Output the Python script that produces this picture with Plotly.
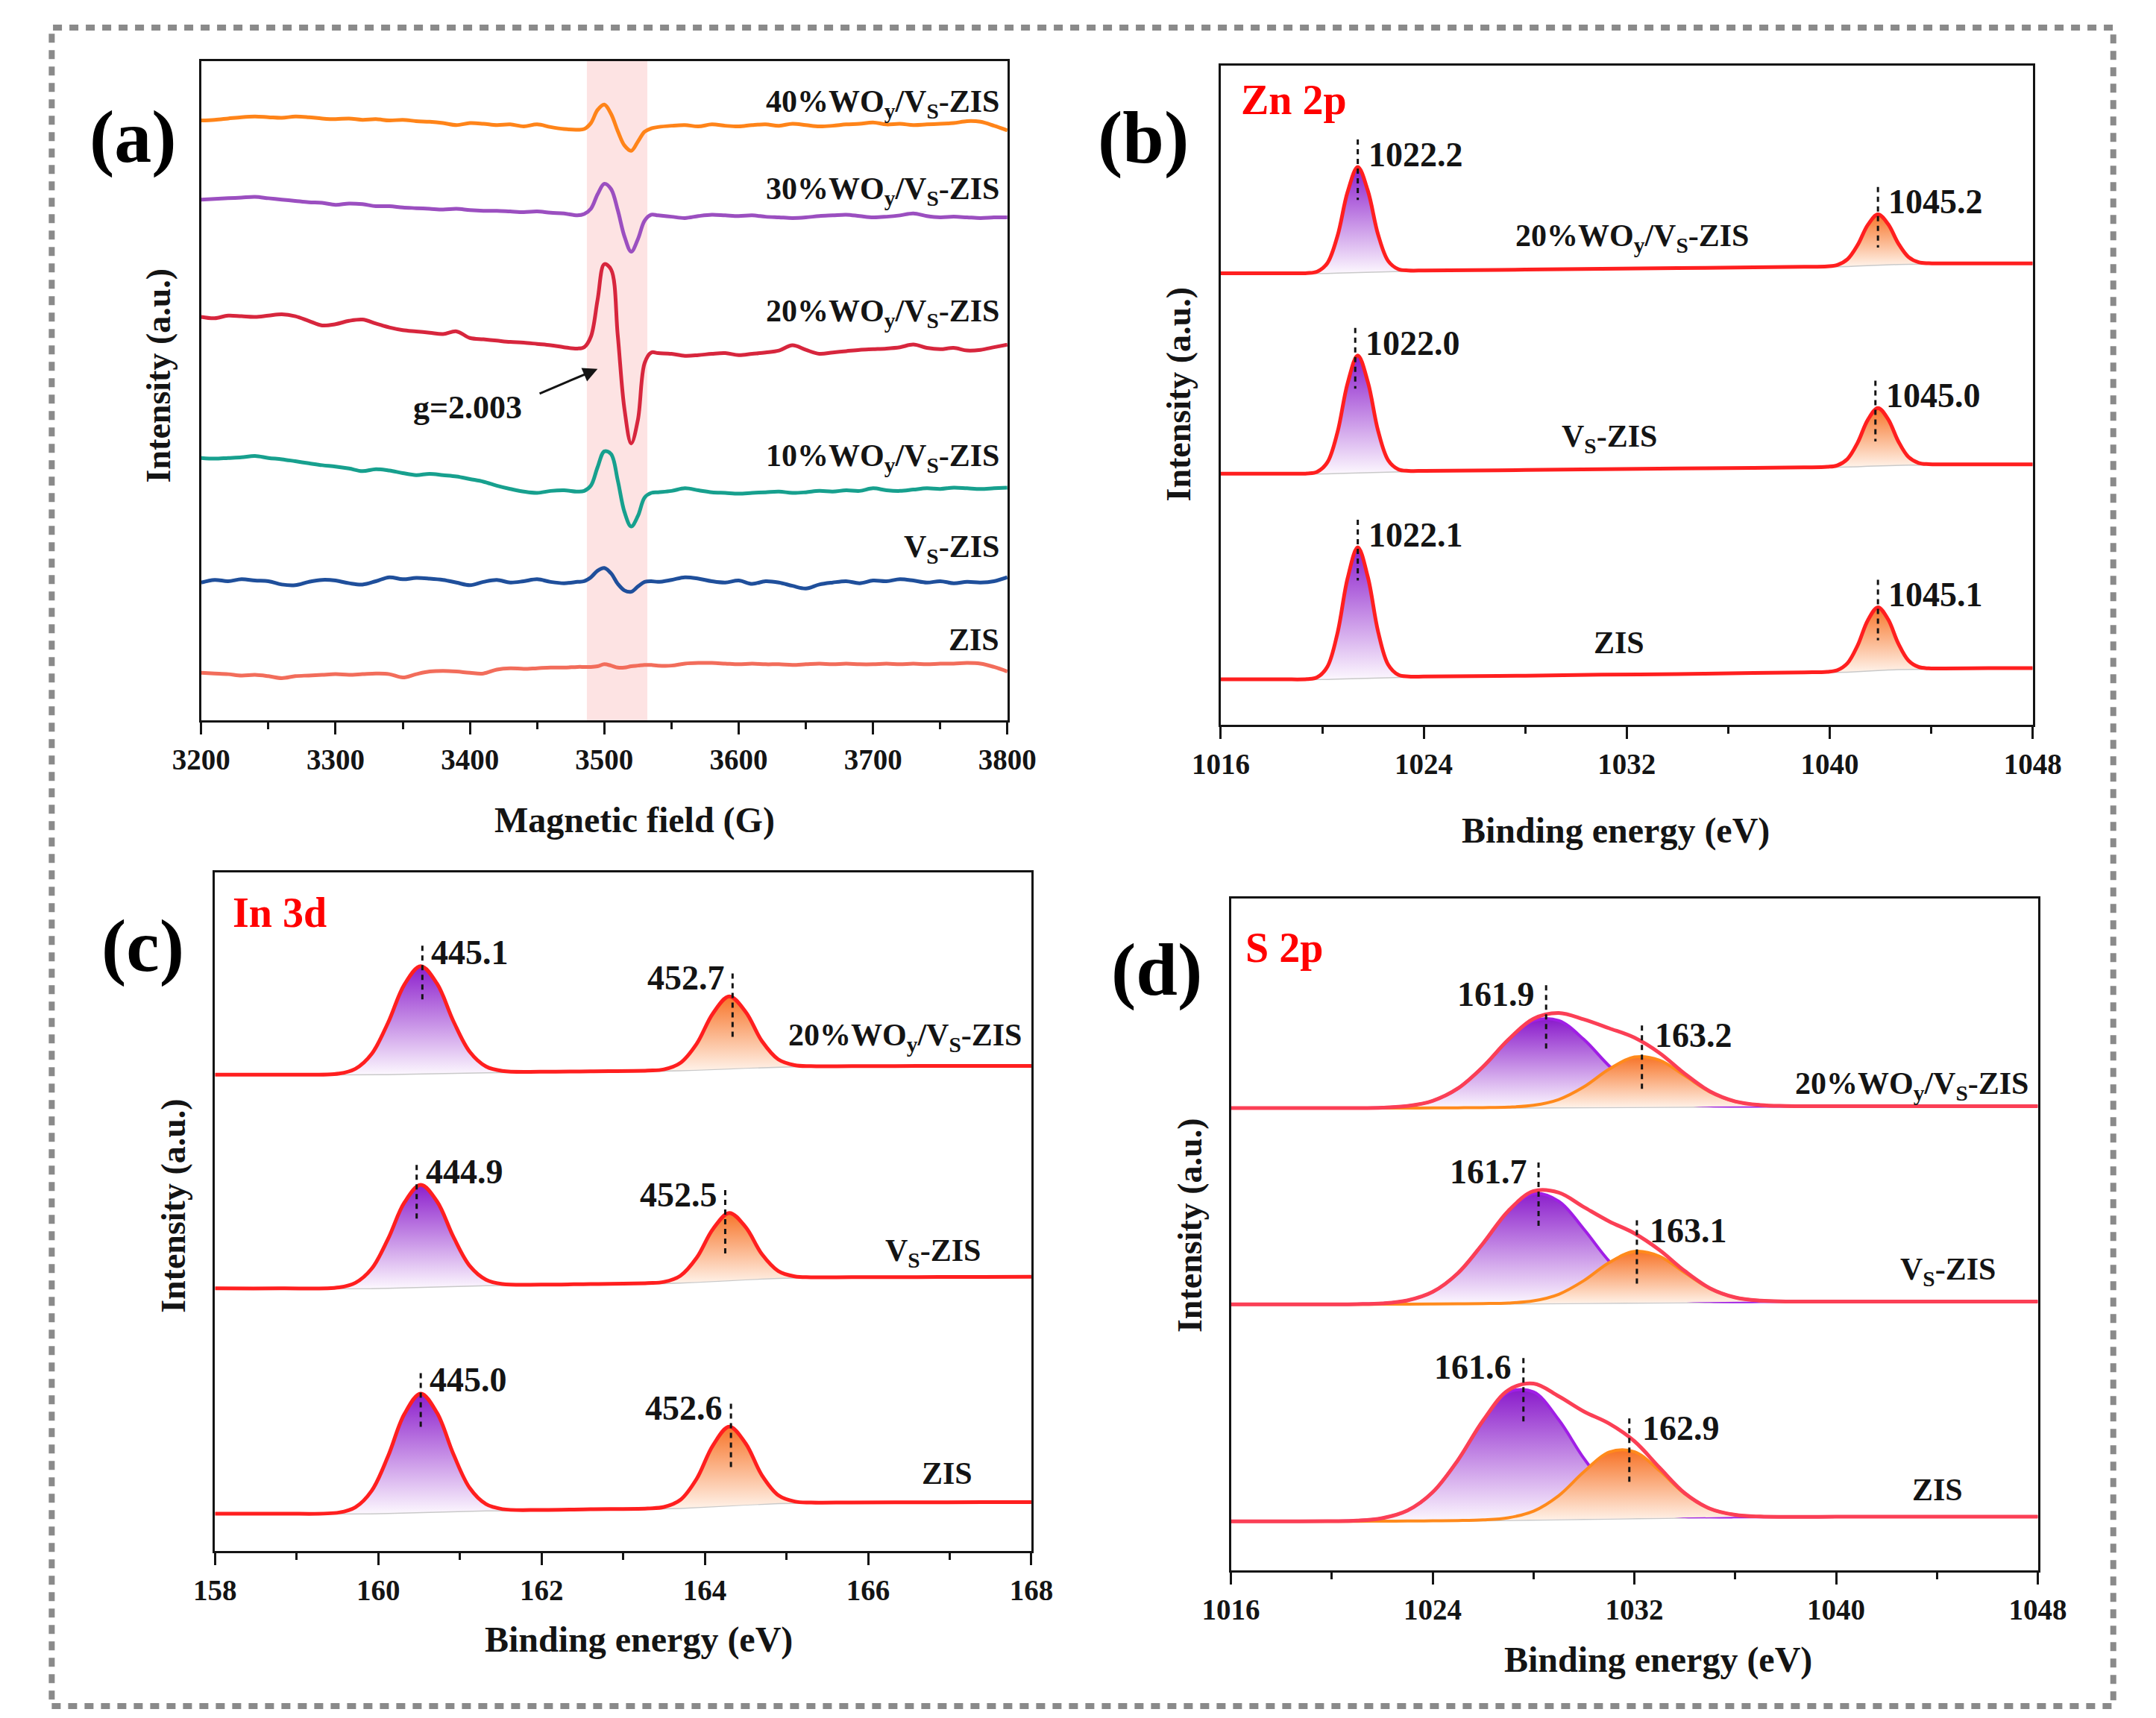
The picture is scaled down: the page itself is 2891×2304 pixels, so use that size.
import plotly.graph_objects as go

W, H = 2891, 2304
SERIF = "Liberation Serif"
INK = "#141414"
GRAY = "#c9c9c9"
RED = "#ff1f1f"
PINK_RED = "#fb3f55"
PURPLE = "#a01ee6"
ORANGE = "#ff8a1c"
PURPLE_FILL = [[0, "#fcf7fe"], [1, "#8c1fcc"]]
ORANGE_FILL = [[0, "#fff3ea"], [1, "#f7752a"]]

# ---------------- (a) EPR, stacked intensity in plot units ----------------
epr_field = list(range(3200, 3490, 10)) + list(range(3485, 3545, 5)) + list(range(3550, 3810, 10))

epr_zis = [7.2, 7.1, 7.0, 6.8, 6.9, 6.7, 6.4, 6.7, 6.8, 6.9, 7.0, 6.9, 7.0, 7.1, 7.0, 6.5, 7.0, 7.4, 7.5, 7.4,
           7.2, 7.1, 7.7, 7.9, 7.8, 7.9, 8.0, 8.0, 8.1,
           8.1, 8.1, 8.2, 8.5, 8.3, 8.0, 8.0, 8.2, 8.3, 8.4, 8.4, 8.3,
           8.3, 8.6, 8.7, 8.7, 8.6, 8.5, 8.6, 8.5, 8.5, 8.4, 8.5, 8.6, 8.5, 8.6, 8.5, 8.5, 8.6, 8.5, 8.6, 8.5,
           8.6, 8.6, 8.7, 8.6, 8.1, 7.4]
epr_vs = [20.9, 21.3, 21.1, 21.4, 21.2, 21.1, 20.6, 20.5, 21.0, 21.3, 21.2, 20.8, 20.6, 21.1, 21.7, 21.4, 21.6,
          21.5, 21.3, 20.9, 20.5, 21.0, 21.3, 20.9, 21.1, 21.4, 21.0, 20.8, 21.0,
          21.1, 21.7, 22.7, 23.1, 22.3, 20.7, 19.7, 19.5, 20.3, 21.0, 21.1, 21.0,
          21.3, 21.7, 21.5, 21.1, 20.9, 21.2, 20.7, 21.1, 20.9, 20.4, 20.0, 20.6, 20.9, 21.1, 20.8, 21.2, 21.1,
          21.4, 21.2, 20.9, 21.1, 20.8, 21.0, 20.9, 21.1, 21.7]
epr_10 = [39.8, 39.7, 39.8, 39.9, 40.1, 39.8, 39.6, 39.3, 39.0, 38.7, 38.5, 38.2, 37.8, 38.1, 37.9, 37.5, 37.2,
          37.4, 37.2, 37.0, 36.6, 36.2, 35.6, 35.1, 34.7, 34.5, 34.8, 34.9, 34.7,
          34.8, 35.6, 38.4, 40.8, 40.4, 36.4, 31.6, 29.4, 31.0, 33.8, 34.5, 34.6,
          34.8, 35.2, 34.9, 34.6, 34.5, 34.4, 34.5, 34.6, 34.7, 34.5, 34.6, 34.8, 34.7, 34.9, 34.8, 35.2, 34.9,
          34.8, 35.0, 35.2, 35.1, 35.3, 35.2, 35.1, 35.2, 35.3]
epr_20 = [61.2, 61.0, 61.4, 61.3, 61.2, 61.4, 61.6, 61.3, 60.6, 59.9, 60.1, 60.6, 60.8, 60.2, 59.6, 59.2, 59.0,
          58.8, 58.6, 59.0, 58.0, 57.8, 57.6, 57.4, 57.3, 57.1, 56.9, 56.6, 56.4,
          56.6, 58.2, 63.8, 69.2, 68.4, 58.4, 47.2, 42.0, 45.6, 54.2, 55.8, 55.7,
          55.6, 55.3, 55.4, 55.6, 55.7, 55.4, 55.6, 55.8, 56.1, 56.9, 56.2, 55.6, 55.8, 56.0, 56.2, 56.3, 56.4,
          56.6, 57.0, 56.5, 56.3, 56.5, 56.1, 56.2, 56.6, 57.0]
epr_30 = [79.0, 79.1, 79.2, 79.3, 79.4, 79.2, 79.0, 78.8, 78.6, 78.5, 78.2, 78.4, 78.3, 78.0, 78.0, 77.8, 77.7,
          77.6, 77.5, 77.6, 77.4, 77.3, 77.3, 77.2, 77.1, 77.2, 77.0, 76.9, 76.6,
          76.8, 77.6, 79.8, 81.4, 80.6, 77.4, 73.4, 71.1, 73.0, 75.8, 76.7, 76.6,
          76.4, 76.2, 76.5, 76.7, 76.6, 76.5, 76.6, 76.4, 76.3, 76.2, 76.3, 76.5, 76.6, 76.7, 76.5, 76.3, 76.4,
          76.6, 76.9, 76.5, 76.3, 76.4, 76.3, 76.2, 76.3, 76.3]
epr_40 = [91.0, 91.1, 91.3, 91.5, 91.6, 91.5, 91.4, 91.6, 91.5, 91.3, 91.2, 91.3, 91.1, 91.2, 91.0, 91.1, 90.9,
          90.8, 90.6, 90.3, 90.6, 90.5, 90.3, 90.4, 90.1, 90.4, 90.0, 89.7, 89.6,
          89.7, 90.6, 92.6, 93.4, 92.0, 89.4, 87.2, 86.4, 87.8, 89.3, 89.8, 90.0,
          90.2, 90.3, 90.1, 90.4, 90.2, 90.1, 90.3, 90.4, 90.2, 90.5, 90.3, 90.1, 90.2, 90.4, 90.5, 90.7, 90.4,
          90.5, 90.3, 90.4, 90.5, 90.6, 90.9, 90.8, 90.2, 89.5]
epr_names = ["ZIS", "V<sub>S</sub>-ZIS", "10%WO<sub>y</sub>/V<sub>S</sub>-ZIS",
             "20%WO<sub>y</sub>/V<sub>S</sub>-ZIS", "30%WO<sub>y</sub>/V<sub>S</sub>-ZIS",
             "40%WO<sub>y</sub>/V<sub>S</sub>-ZIS"]
epr_colors = ["#f26d5b", "#1f4f9b", "#17a08e", "#d7263d", "#9b4fc0", "#ff8419"]
epr_label_y = [12.2, 26.0, 39.8, 61.8, 80.3, 93.5]
g_band = [3487, 3532]

# ---------------- (b) Zn 2p ----------------
zn_be = [1016, 1017.5, 1018.5, 1019.4, 1019.8, 1020.2, 1020.6, 1021.0, 1021.4, 1021.8, 1022.2, 1022.6,
         1023.0, 1023.4, 1024.0, 1025, 1028, 1031, 1034, 1037, 1039, 1039.9, 1040.3, 1040.7, 1041.1,
         1041.5, 1041.9, 1042.3, 1042.7, 1043.1, 1043.5, 1043.9, 1044.5, 1045.5, 1047, 1048]
zn_bg_zis = [6.9, 6.9, 6.9, 6.9, 6.92, 6.95, 7.0, 7.05, 7.12, 7.18, 7.23, 7.27, 7.29, 7.3, 7.32, 7.35, 7.45,
             7.6, 7.7, 7.85, 7.95, 8.0, 8.02, 8.07, 8.15, 8.25, 8.33, 8.4, 8.45, 8.48, 8.5, 8.52, 8.55, 8.57,
             8.6, 8.6]
zn_env_zis = [6.9, 6.9, 6.9, 6.93, 7.21, 8.79, 13.91, 22.24, 26.92, 22.37, 14.14, 9.11, 7.58, 7.33, 7.32,
              7.35, 7.45, 7.6, 7.7, 7.85, 7.95, 8.04, 8.29, 9.35, 12.05, 15.85, 17.83, 16.0, 12.35, 9.76,
              8.77, 8.56, 8.55, 8.57, 8.6, 8.6]
zn_bg_vs = [38.1, 38.1, 38.1, 38.1, 38.12, 38.15, 38.2, 38.25, 38.32, 38.38, 38.43, 38.47, 38.49, 38.5,
            38.52, 38.55, 38.65, 38.78, 38.88, 38.98, 39.05, 39.1, 39.12, 39.17, 39.23, 39.3, 39.36, 39.41,
            39.45, 39.47, 39.49, 39.5, 39.5, 39.5, 39.5, 39.5]
zn_env_vs = [38.1, 38.1, 38.1, 38.12, 38.38, 39.8, 44.38, 51.83, 56.02, 51.96, 44.61, 40.12, 38.75, 38.52,
             38.52, 38.55, 38.65, 38.78, 38.88, 38.98, 39.05, 39.13, 39.36, 40.34, 42.8, 46.26, 48.06, 46.37,
             43.02, 40.64, 39.73, 39.53, 39.5, 39.5, 39.5, 39.5]
zn_bg_20 = [68.5, 68.5, 68.5, 68.5, 68.52, 68.55, 68.6, 68.65, 68.72, 68.78, 68.83, 68.87, 68.89, 68.9,
            68.92, 68.95, 69.05, 69.18, 69.28, 69.4, 69.48, 69.52, 69.55, 69.6, 69.67, 69.75, 69.82, 69.88,
            69.92, 69.95, 69.97, 69.99, 70.0, 70.0, 70.0, 70.0]
zn_env_20 = [68.5, 68.5, 68.5, 68.52, 68.75, 70.03, 74.15, 80.85, 84.62, 80.98, 74.38, 70.35, 69.12, 68.92,
             68.92, 68.95, 69.05, 69.18, 69.28, 69.4, 69.48, 69.55, 69.76, 70.63, 72.79, 75.83, 77.42, 75.96,
             73.04, 70.98, 70.18, 70.02, 70.0, 70.0, 70.0, 70.0]
zn_p1_x = [1021.4, 1021.3, 1021.4]
zn_p1_top = [26.9, 56.0, 84.6]
zn_p1_lab = ["1022.1", "1022.0", "1022.2"]
zn_p2_x = [1041.9, 1041.8, 1041.9]
zn_p2_top = [17.8, 48.0, 77.4]
zn_p2_lab = ["1045.1", "1045.0", "1045.2"]

# ---------------- (c) In 3d ----------------
in_be = [158, 158.8, 159.52, 159.72, 159.92, 160.12, 160.32, 160.52, 160.72, 160.92, 161.12, 161.32,
         161.52, 162.0, 162.6, 163.3, 163.5, 163.7, 163.9, 164.1, 164.3, 164.5, 164.7, 164.9, 165.1,
         165.3, 165.8, 166.6, 167.4, 168]
in_bg_zis = [5.5, 5.5, 5.5, 5.52, 5.55, 5.6, 5.67, 5.75, 5.83, 5.9, 5.95, 5.98, 6.0, 6.05, 6.15, 6.25,
             6.28, 6.35, 6.45, 6.58, 6.72, 6.86, 6.97, 7.05, 7.1, 7.12, 7.15, 7.17, 7.19, 7.2]
in_env_zis = [5.5, 5.5, 5.67, 6.44, 8.88, 13.98, 20.19, 23.2, 20.35, 14.28, 9.28, 6.9, 6.17, 6.05, 6.15,
              6.27, 6.48, 7.52, 10.63, 15.57, 18.32, 15.85, 11.15, 8.22, 7.3, 7.14, 7.15, 7.17, 7.19, 7.2]
in_bg_vs = [38.7, 38.7, 38.7, 38.72, 38.75, 38.8, 38.87, 38.95, 39.03, 39.1, 39.15, 39.18, 39.2, 39.25,
            39.35, 39.45, 39.48, 39.55, 39.65, 39.78, 39.92, 40.06, 40.17, 40.25, 40.3, 40.32, 40.35, 40.37,
            40.39, 40.4]
in_env_vs = [38.7, 38.7, 38.85, 39.52, 41.62, 46.0, 51.35, 53.95, 51.51, 46.3, 42.02, 39.98, 39.35, 39.25,
             39.35, 39.47, 39.65, 40.55, 43.21, 47.45, 49.82, 47.73, 43.73, 41.25, 40.47, 40.34, 40.35,
             40.37, 40.39, 40.4]
in_bg_20 = [70.2, 70.2, 70.2, 70.22, 70.24, 70.28, 70.33, 70.39, 70.45, 70.5, 70.54, 70.56, 70.58, 70.62,
            70.69, 70.77, 70.79, 70.85, 70.92, 71.02, 71.13, 71.23, 71.32, 71.38, 71.42, 71.43, 71.45, 71.47,
            71.48, 71.49]
in_env_20 = [70.2, 70.2, 70.36, 71.06, 73.27, 77.86, 83.48, 86.19, 83.6, 78.08, 73.57, 71.4, 70.74, 70.62,
             70.69, 70.79, 70.97, 71.92, 74.74, 79.24, 81.73, 79.45, 75.14, 72.45, 71.6, 71.45, 71.45,
             71.47, 71.48, 71.49]
in_p1_x = [160.52, 160.47, 160.54]
in_p1_top = [23.2, 53.9, 86.2]
in_p1_lab = ["445.0", "444.9", "445.1"]
in_p2_x = [164.32, 164.25, 164.34]
in_p2_top = [18.3, 49.8, 81.7]
in_p2_lab = ["452.6", "452.5", "452.7"]

# ---------------- (d) S 2p ----------------
s_be = [1016, 1018, 1020, 1021, 1022, 1023, 1024, 1025, 1026, 1027, 1028, 1029, 1030, 1031, 1032, 1033,
        1034, 1035, 1036, 1037, 1038, 1040, 1042, 1044, 1046, 1048]
s_bg_zis = [7.3, 7.3, 7.3, 7.3, 7.32, 7.34, 7.38, 7.42, 7.47, 7.52, 7.57, 7.63, 7.69, 7.75, 7.81, 7.86, 7.9,
            7.93, 7.95, 7.96, 7.97, 7.98, 7.99, 8.0, 8.0, 8.0]
s_p1_zis = [7.3, 7.3, 7.32, 7.4, 7.77, 8.9, 11.62, 16.39, 22.26, 26.51, 26.56, 22.42, 16.66, 11.99, 9.37,
            8.31, 8.0, 7.95, 7.95, 7.96, 7.97, 7.98, 7.99, 8.0, 8.0, 8.0]
s_p2_zis = [7.3, 7.3, 7.3, 7.3, 7.32, 7.34, 7.38, 7.42, 7.52, 7.83, 8.81, 11.12, 14.67, 17.61, 17.67, 14.84,
            11.39, 9.17, 8.26, 8.01, 7.97, 7.98, 7.99, 8.0, 8.0, 8.0]
s_env_zis = [7.3, 7.3, 7.32, 7.4, 7.77, 8.9, 11.62, 16.39, 22.31, 26.82, 27.8, 25.91, 23.64, 21.85, 19.23,
             15.29, 11.49, 9.19, 8.26, 8.01, 7.97, 7.98, 7.99, 8.0, 8.0, 8.0]
s_bg_vs = [39.6, 39.6, 39.6, 39.6, 39.61, 39.62, 39.64, 39.67, 39.7, 39.73, 39.76, 39.8, 39.84, 39.88, 39.92,
           39.95, 39.97, 39.98, 39.99, 40.0, 40.0, 40.0, 40.0, 40.0, 40.0, 40.0]
s_p1_vs = [39.6, 39.6, 39.6, 39.63, 39.74, 40.18, 41.45, 44.23, 48.66, 53.43, 56.08, 54.94, 50.78, 46.03,
           42.62, 40.87, 40.21, 40.03, 39.99, 40.0, 40.0, 40.0, 40.0, 40.0, 40.0, 40.0]
s_p2_vs = [39.6, 39.6, 39.6, 39.6, 39.61, 39.62, 39.64, 39.67, 39.71, 39.8, 40.12, 41.09, 43.13, 45.8, 47.47,
           46.75, 44.31, 41.94, 40.62, 40.14, 40.02, 40.0, 40.0, 40.0, 40.0, 40.0]
s_env_vs = [39.6, 39.6, 39.6, 39.63, 39.74, 40.18, 41.45, 44.23, 48.67, 53.5, 56.44, 56.23, 54.07, 51.95,
            50.17, 47.67, 44.55, 41.99, 40.62, 40.14, 40.02, 40.0, 40.0, 40.0, 40.0, 40.0]
s_bg_20 = [68.8, 68.8, 68.8, 68.8, 68.81, 68.82, 68.83, 68.85, 68.87, 68.89, 68.91, 68.94, 68.97, 69.0,
           69.03, 69.05, 69.07, 69.08, 69.09, 69.1, 69.1, 69.1, 69.1, 69.1, 69.1, 69.1]
s_p1_20 = [68.8, 68.8, 68.8, 68.81, 68.88, 69.12, 69.89, 71.73, 74.96, 78.93, 81.8, 81.83, 79.01, 75.09,
           71.91, 70.11, 69.37, 69.15, 69.1, 69.1, 69.1, 69.1, 69.1, 69.1, 69.1, 69.1]
s_p2_20 = [68.8, 68.8, 68.8, 68.8, 68.81, 68.82, 68.83, 68.85, 68.88, 68.95, 69.22, 70.08, 71.97, 74.6,
           76.41, 75.94, 73.62, 71.21, 69.79, 69.26, 69.13, 69.1, 69.1, 69.1, 69.1, 69.1]
s_env_20 = [68.8, 68.8, 68.8, 68.81, 68.88, 69.12, 69.89, 71.73, 74.97, 78.99, 82.11, 82.97, 82.01, 80.69,
            79.29, 77.0, 73.92, 71.28, 69.8, 69.26, 69.13, 69.1, 69.1, 69.1, 69.1, 69.1]
s_p1_x = [1027.6, 1028.2, 1028.5]
s_p1_top = [27.8, 56.9, 83.3]
s_p1_lab = ["161.6", "161.7", "161.9"]
s_p2_x = [1031.8, 1032.1, 1032.3]
s_p2_top = [17.9, 47.4, 76.4]
s_p2_lab = ["162.9", "163.1", "163.2"]

xps_names = ["ZIS", "V<sub>S</sub>-ZIS", "20%WO<sub>y</sub>/V<sub>S</sub>-ZIS"]
zn_name_x = [1031.7, 1031.3, 1032.2]
zn_name_y = [12.5, 43.4, 73.9]
in_name_y = [11.4, 44.0, 75.7]
in_name_x = [167.3, 167.4, 167.9]
s_name_x = [1045.1, 1046.4, 1047.7]
s_name_y = [12.0, 44.5, 72.1]

fig = go.Figure()
annos = []


def txt(text, x, y, xref, yref, size=42, color=INK, anchor="center", angle=0):
    annos.append(dict(text=text, x=x, y=y, xref=xref, yref=yref, showarrow=False, xanchor=anchor,
                      yanchor="middle", textangle=angle,
                      font=dict(family=SERIF, size=size, color=color, weight="bold")))


def line(ax, x, y, color, width, shape="spline", dash=None, **kw):
    fig.add_trace(go.Scatter(x=x, y=y, mode="lines", xaxis="x" + ax, yaxis="y" + ax, hoverinfo="skip",
                             line=dict(color=color, width=width, shape=shape, dash=dash), **kw))


def marker(ax, x, top, up, down):
    line(ax, [x, x], [top + up, top - down], INK, 3, shape="linear", dash="7px,6px")


def fill_between(ax, x, lower, upper, colors):
    line(ax, x, lower, "rgba(0,0,0,0)", 0, shape="linear")
    line(ax, x, upper, "rgba(0,0,0,0)", 0, fill="tonexty",
         fillgradient=dict(type="vertical", colorscale=colors, start=min(lower), stop=max(upper)))


# (a) traces
epr_sets = [epr_zis, epr_vs, epr_10, epr_20, epr_30, epr_40]
for ys, col, name, ly in zip(epr_sets, epr_colors, epr_names, epr_label_y):
    line("", epr_field, ys, col, 5)
    txt(name, 3795, ly, "x", "y", anchor="right")

# (b) Zn 2p
zn_sets = [(zn_bg_zis, zn_env_zis), (zn_bg_vs, zn_env_vs), (zn_bg_20, zn_env_20)]
for i, (bg, env) in enumerate(zn_sets):
    line("2", zn_be, bg, GRAY, 3, shape="linear")
    fill_between("2", zn_be[2:15], bg[2:15], env[2:15], PURPLE_FILL)
    fill_between("2", zn_be[20:33], bg[20:33], env[20:33], ORANGE_FILL)
    line("2", zn_be, env, RED, 5)
    marker("2", zn_p1_x[i], zn_p1_top[i], 4.2, 5)
    marker("2", zn_p2_x[i], zn_p2_top[i], 4.2, 5)
    txt(zn_p1_lab[i], zn_p1_x[i] + 0.35, zn_p1_top[i] + 1.9, "x2", "y2", size=46, anchor="left")
    txt(zn_p2_lab[i], zn_p2_x[i] + 0.35, zn_p2_top[i] + 1.9, "x2", "y2", size=46, anchor="left")
    txt(xps_names[i], zn_name_x[i], zn_name_y[i], "x2", "y2")

# (c) In 3d
in_sets = [(in_bg_zis, in_env_zis), (in_bg_vs, in_env_vs), (in_bg_20, in_env_20)]
for i, (bg, env) in enumerate(in_sets):
    line("3", in_be, bg, GRAY, 3, shape="linear")
    fill_between("3", in_be[1:14], bg[1:14], env[1:14], PURPLE_FILL)
    fill_between("3", in_be[14:27], bg[14:27], env[14:27], ORANGE_FILL)
    line("3", in_be, env, RED, 5)
    marker("3", in_p1_x[i], in_p1_top[i], 3.0, 5.2)
    marker("3", in_p2_x[i], in_p2_top[i], 3.4, 6.0)
    txt(in_p1_lab[i], in_p1_x[i] + 0.09, in_p1_top[i] + 2.0, "x3", "y3", size=46, anchor="left")
    txt(in_p2_lab[i], in_p2_x[i] - 0.08, in_p2_top[i] + 2.7, "x3", "y3", size=46, anchor="right")
    txt(xps_names[i], in_name_x[i], in_name_y[i], "x3", "y3", anchor="right")

# (d) S 2p
s_sets = [(s_bg_zis, s_p1_zis, s_p2_zis, s_env_zis), (s_bg_vs, s_p1_vs, s_p2_vs, s_env_vs),
          (s_bg_20, s_p1_20, s_p2_20, s_env_20)]
for i, (bg, p1, p2, env) in enumerate(s_sets):
    line("4", s_be, bg, GRAY, 3, shape="linear")
    fill_between("4", s_be, bg, p1, PURPLE_FILL)
    line("4", s_be, p1, PURPLE, 4)
    fill_between("4", s_be, bg, p2, ORANGE_FILL)
    line("4", s_be, p2, ORANGE, 4)
    line("4", s_be, env, PINK_RED, 5)
    marker("4", s_p1_x[i], s_p1_top[i], 3.8, 6.0)
    marker("4", s_p2_x[i], s_p2_top[i], 4.7, 5.0)
    txt(s_p1_lab[i], s_p1_x[i] - 0.4, s_p1_top[i] + 2.4, "x4", "y4", size=46, anchor="right")
    txt(s_p2_lab[i], s_p2_x[i] + 0.45, s_p2_top[i] + 3.2, "x4", "y4", size=46, anchor="left")
    txt(xps_names[i], s_name_x[i], s_name_y[i], "x4", "y4", anchor="right")

# g-value marker in (a)
txt("g=2.003", 3398, 47.5, "x", "y", size=44)
annos.append(dict(x=3495, y=53.3, ax=3451, ay=49.5, xref="x", yref="y", axref="x", ayref="y", text="",
                  showarrow=True, arrowhead=2, arrowsize=1.3, arrowwidth=3, arrowcolor=INK))

# panel letters, element tags and axis titles (paper coordinates from pixel positions)
for t, px, py in [("(a)", 135, 175), ("(b)", 1527, 177), ("(c)", 149, 1260), ("(d)", 1546, 1292)]:
    txt(t, px / W, 1 - py / H, "paper", "paper", size=100, color="#000")
for t, px, py in [("Zn 2p", 1660, 126), ("In 3d", 270, 1216), ("S 2p", 1666, 1263)]:
    txt(t, px / W, 1 - py / H, "paper", "paper", size=56, color="#ff0000", anchor="left")
for t, px, py in [("Magnetic field (G)", 826, 1092), ("Binding energy (eV)", 2178, 1106),
                  ("Binding energy (eV)", 832, 2191), ("Binding energy (eV)", 2237, 2218)]:
    txt(t, px / W, 1 - py / H, "paper", "paper", size=48)
for px, py in [(170, 495), (1575, 521), (190, 1609), (1591, 1635)]:
    txt("Intensity (a.u.)", px / W, 1 - py / H, "paper", "paper", size=46, angle=-90)


def xaxis(dom, rng, dtick, minor, anchor):
    return dict(domain=[dom[0] / W, dom[1] / W], range=rng, anchor=anchor, tick0=rng[0], dtick=dtick,
                showline=True, linewidth=3, linecolor=INK, mirror=True, ticks="outside", ticklen=16,
                tickwidth=3, tickcolor=INK, showgrid=False, zeroline=False,
                tickfont=dict(family=SERIF, size=39, color=INK, weight="bold"),
                minor=dict(dtick=minor, tick0=rng[0], ticks="outside", ticklen=9, tickwidth=3, tickcolor=INK))


def yaxis(dom, anchor):
    return dict(domain=[1 - dom[1] / H, 1 - dom[0] / H], range=[0, 100], anchor=anchor, showline=True,
                linewidth=3, linecolor=INK, mirror=True, ticks="", showticklabels=False, showgrid=False,
                zeroline=False)


fig.update_layout(
    width=W, height=H, margin=dict(l=0, r=0, t=0, b=0), showlegend=False,
    paper_bgcolor="white", plot_bgcolor="white",
    xaxis=xaxis((229, 1340), [3200, 3800], 100, 50, "y"),
    yaxis=yaxis((74, 958), "x"),
    xaxis2=xaxis((1634, 2753), [1016, 1048], 8, 4, "y2"),
    yaxis2=yaxis((80, 964), "x2"),
    xaxis3=xaxis((248, 1373), [158, 168], 2, 1, "y3"),
    yaxis3=yaxis((1162, 2072), "x3"),
    xaxis4=xaxis((1648, 2760), [1016, 1048], 8, 4, "y4"),
    yaxis4=yaxis((1197, 2098), "x4"),
    annotations=annos,
    shapes=[
        dict(type="rect", xref="x", yref="y domain", x0=g_band[0], x1=g_band[1], y0=0, y1=1,
             fillcolor="#fde3e3", line=dict(width=0), layer="below"),
        dict(type="rect", xref="paper", yref="paper", x0=23 / W, x1=2864 / W, y0=1 - 2280 / H, y1=1 - 29 / H,
             line=dict(color="#8a8a8a", width=8, dash="12px,10px")),
    ],
)

fig.write_html("out.html")
